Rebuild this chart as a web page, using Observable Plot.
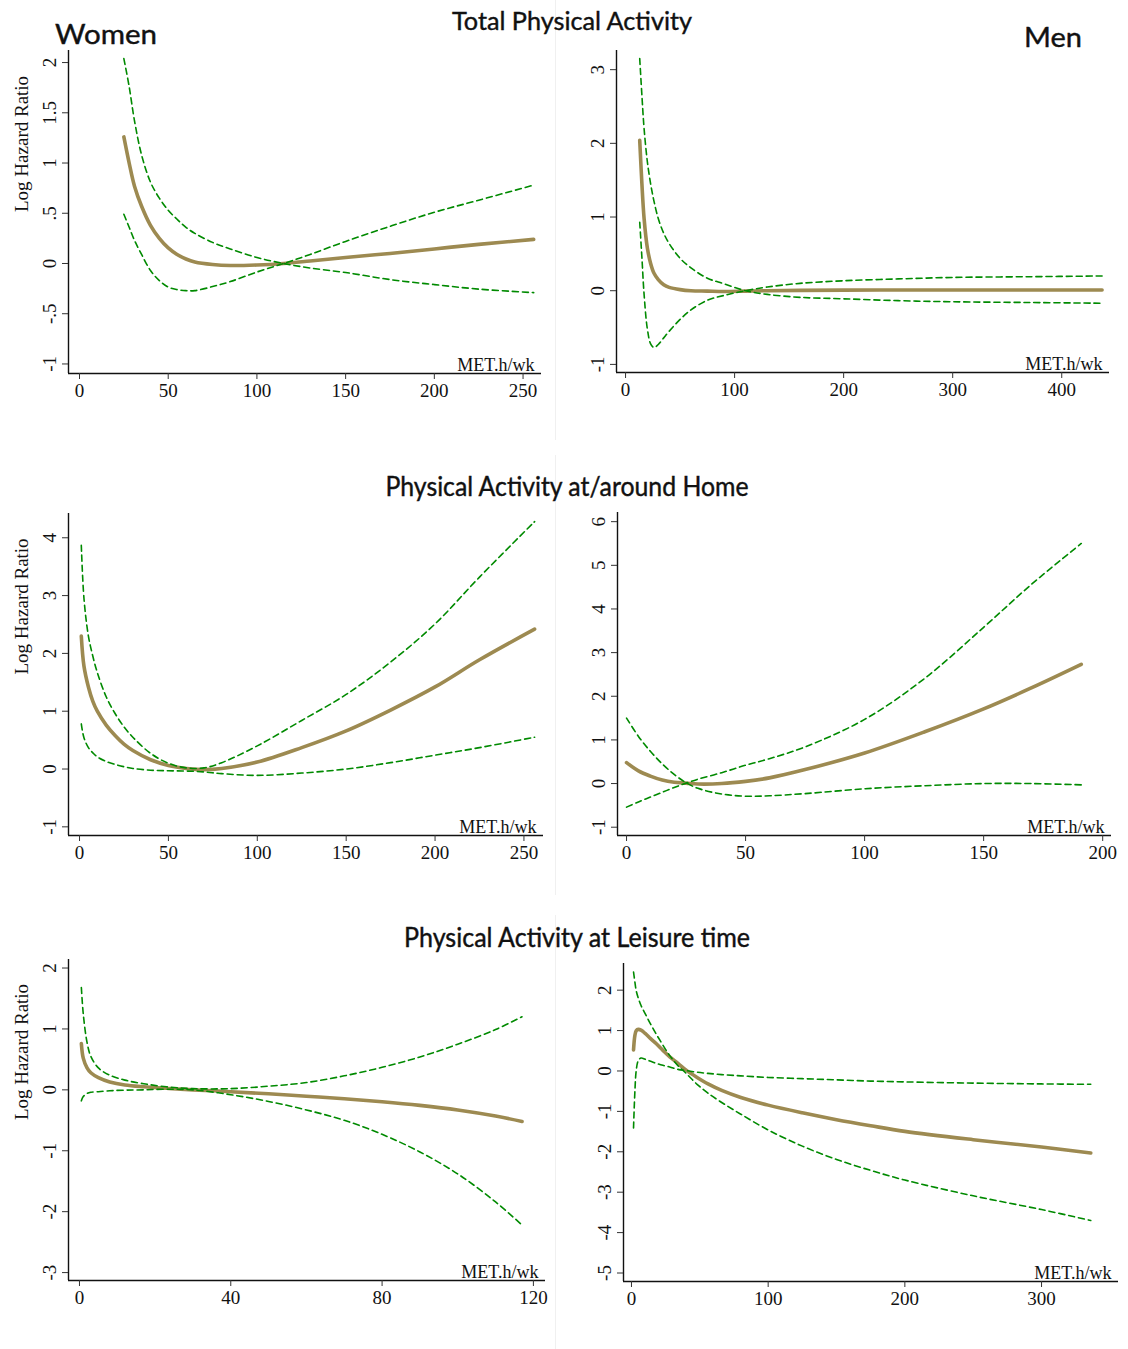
<!DOCTYPE html>
<html>
<head>
<meta charset="utf-8">
<script src="https://cdn.jsdelivr.net/npm/d3@7"></script>
<script src="https://cdn.jsdelivr.net/npm/@observablehq/plot@0.6"></script>
<style>
  html, body { margin: 0; padding: 0; background: #fff; }
  #page { position: relative; width: 1128px; height: 1349px; overflow: hidden; background: #fff; }
  #page > svg { position: absolute; }
</style>
</head>
<body>
<div id="page"></div>
<script>
// ---------------- text ----------------
const rowTitles = ["Total Physical Activity", "Physical Activity at/around Home", "Physical Activity at Leisure time"];
const sexLabels = ["Women", "Men"];
const yTitle = "Log Hazard Ratio";
const xUnit = "MET.h/wk";

// ---------------- data ----------------
// Total physical activity - Women
const womenTotalX   = [25, 28, 31, 35, 40, 45, 50, 55, 60, 65, 75, 85, 100, 115, 130, 150, 175, 200, 225, 256];
const womenTotalEst = [1.26, 1.0, 0.77, 0.57, 0.38, 0.25, 0.155, 0.09, 0.045, 0.015, -0.01, -0.02, -0.015, 0.0, 0.025, 0.06, 0.10, 0.145, 0.19, 0.24];
const womenTotalHi  = [2.04, 1.76, 1.42, 1.08, 0.81, 0.65, 0.53, 0.44, 0.36, 0.30, 0.21, 0.145, 0.06, 0.0, -0.045, -0.09, -0.16, -0.21, -0.255, -0.29];
const womenTotalLo  = [0.49, 0.36, 0.23, 0.09, -0.07, -0.17, -0.235, -0.26, -0.27, -0.27, -0.23, -0.18, -0.085, 0.0, 0.09, 0.22, 0.37, 0.51, 0.63, 0.78];

// Total physical activity - Men
const menTotalX   = [13, 15, 17, 20, 23, 26, 30, 35, 40, 50, 60, 75, 90, 110, 130, 160, 200, 250, 300, 370, 437];
const menTotalEst = [2.04, 1.45, 0.98, 0.58, 0.37, 0.24, 0.15, 0.08, 0.045, 0.015, 0.0, -0.005, -0.01, -0.005, 0.0, 0.005, 0.008, 0.01, 0.01, 0.01, 0.01];
const menTotalHi  = [3.15, 2.65, 2.2, 1.75, 1.45, 1.22, 0.98, 0.78, 0.64, 0.44, 0.31, 0.17, 0.095, 0.0, -0.05, -0.09, -0.11, -0.135, -0.15, -0.16, -0.17];
const menTotalLo  = [0.93, 0.45, -0.05, -0.52, -0.72, -0.77, -0.73, -0.64, -0.55, -0.39, -0.26, -0.13, -0.065, 0.0, 0.05, 0.10, 0.135, 0.16, 0.18, 0.19, 0.20];

// Physical activity at/around home - Women
const womenHomeX   = [1, 2.5, 5, 7.5, 10, 15, 20, 25, 30, 40, 50, 60, 70, 80, 100, 125, 150, 175, 200, 225, 256];
const womenHomeEst = [2.3, 1.78, 1.42, 1.17, 1.0, 0.76, 0.58, 0.43, 0.32, 0.16, 0.06, 0.01, -0.01, 0.01, 0.12, 0.37, 0.66, 1.02, 1.42, 1.89, 2.42];
const womenHomeHi  = [3.87, 2.95, 2.3, 1.95, 1.67, 1.25, 0.96, 0.73, 0.55, 0.27, 0.10, 0.02, 0.02, 0.11, 0.40, 0.84, 1.29, 1.85, 2.51, 3.32, 4.28];
const womenHomeLo  = [0.78, 0.54, 0.37, 0.28, 0.21, 0.13, 0.08, 0.04, 0.01, -0.02, -0.03, -0.035, -0.05, -0.08, -0.11, -0.07, 0.0, 0.11, 0.24, 0.37, 0.55];

// Physical activity at/around home - Men
const menHomeX   = [0, 5, 10, 15, 20, 25, 30, 40, 50, 60, 75, 100, 125, 150, 170, 191];
const menHomeEst = [0.48, 0.29, 0.17, 0.08, 0.03, 0.01, -0.01, 0.0, 0.05, 0.13, 0.32, 0.70, 1.18, 1.71, 2.19, 2.73];
const menHomeHi  = [-0.54, -0.42, -0.31, -0.2, -0.09, 0.01, 0.10, 0.25, 0.42, 0.57, 0.84, 1.47, 2.40, 3.58, 4.56, 5.50];
const menHomeLo  = [1.50, 1.08, 0.74, 0.45, 0.21, 0.02, -0.11, -0.24, -0.29, -0.28, -0.23, -0.12, -0.05, 0.0, 0.0, -0.03];

// Physical activity at leisure time - Women
const womenLeisureX   = [0.5, 1, 2, 3, 5, 8, 12, 17, 23, 30, 40, 50, 60, 70, 80, 90, 100, 110, 117];
const womenLeisureEst = [0.76, 0.52, 0.36, 0.28, 0.2, 0.13, 0.08, 0.05, 0.025, 0.0, -0.03, -0.065, -0.105, -0.145, -0.195, -0.255, -0.33, -0.43, -0.52];
const womenLeisureHi  = [1.68, 1.25, 0.78, 0.55, 0.36, 0.24, 0.16, 0.10, 0.05, 0.02, 0.02, 0.06, 0.12, 0.23, 0.37, 0.54, 0.75, 0.99, 1.2];
const womenLeisureLo  = [-0.18, -0.11, -0.06, -0.04, -0.03, -0.015, -0.005, 0.0, 0.01, 0.0, -0.08, -0.19, -0.33, -0.5, -0.73, -1.02, -1.38, -1.84, -2.22];

// Physical activity at leisure time - Men
const menLeisureX   = [1.5, 2.5, 3.5, 5, 7, 10, 14, 18, 23, 28, 34, 40, 48, 56, 66, 80, 100, 125, 150, 175, 200, 250, 300, 336];
const menLeisureEst = [0.52, 0.88, 1.0, 1.03, 1.01, 0.93, 0.8, 0.68, 0.51, 0.35, 0.19, 0.02, -0.16, -0.32, -0.48, -0.655, -0.845, -1.035, -1.205, -1.355, -1.495, -1.70, -1.88, -2.03];
const menLeisureHi  = [2.45, 2.2, 1.98, 1.8, 1.62, 1.42, 1.16, 0.92, 0.64, 0.38, 0.13, -0.06, -0.33, -0.55, -0.78, -1.07, -1.46, -1.86, -2.19, -2.46, -2.70, -3.09, -3.43, -3.70];
const menLeisureLo  = [-1.41, -0.5, 0.02, 0.26, 0.32, 0.29, 0.24, 0.19, 0.14, 0.1, 0.04, 0.01, -0.03, -0.06, -0.09, -0.12, -0.16, -0.19, -0.22, -0.25, -0.27, -0.30, -0.32, -0.33];

// tick values
const xTicksWomenTotal = [0, 50, 100, 150, 200, 250];
const yTicksWomenTotal = [-1, -0.5, 0, 0.5, 1, 1.5, 2];
const xTicksMenTotal = [0, 100, 200, 300, 400];
const yTicksMenTotal = [-1, 0, 1, 2, 3];
const xTicksWomenHome = [0, 50, 100, 150, 200, 250];
const yTicksWomenHome = [-1, 0, 1, 2, 3, 4];
const xTicksMenHome = [0, 50, 100, 150, 200];
const yTicksMenHome = [-1, 0, 1, 2, 3, 4, 5, 6];
const xTicksWomenLeisure = [0, 40, 80, 120];
const yTicksWomenLeisure = [-3, -2, -1, 0, 1, 2];
const xTicksMenLeisure = [0, 100, 200, 300];
const yTicksMenLeisure = [-5, -4, -3, -2, -1, 0, 1, 2];

// ---------------- styles / layout ----------------
const TAN = "#9d8a51";
const GREEN = "#008a00";
const SERIF = "'Liberation Serif', 'Times New Roman', serif";
const SANS = "Lato, 'Open Sans', sans-serif";
const M = {left: 62, right: 12, top: 6, bottom: 42};

const panels = [
  {x: womenTotalX, est: womenTotalEst, hi: womenTotalHi, lo: womenTotalLo, xt: xTicksWomenTotal, yt: yTicksWomenTotal,
   xd: [-6.2, 260.4], yd: [-1.095, 2.12], box: [68, 541, 50, 373], ylab: true},
  {x: menTotalX, est: menTotalEst, hi: menTotalHi, lo: menTotalLo, xt: xTicksMenTotal, yt: yTicksMenTotal,
   xd: [-8.3, 443.8], yd: [-1.11, 3.26], box: [616, 1109, 50, 372], ylab: false},
  {x: womenHomeX, est: womenHomeEst, hi: womenHomeHi, lo: womenHomeLo, xt: xTicksWomenHome, yt: yTicksWomenHome,
   xd: [-6.2, 261], yd: [-1.15, 4.42], box: [68, 543, 513, 835], ylab: true},
  {x: menHomeX, est: menHomeEst, hi: menHomeHi, lo: menHomeLo, xt: xTicksMenHome, yt: yTicksMenHome,
   xd: [-3.8, 203.7], yd: [-1.19, 6.21], box: [617, 1111, 512, 835], ylab: false},
  {x: womenLeisureX, est: womenLeisureEst, hi: womenLeisureHi, lo: womenLeisureLo, xt: xTicksWomenLeisure, yt: yTicksWomenLeisure,
   xd: [-2.9, 123.2], yd: [-3.13, 2.14], box: [68, 545, 959, 1280], ylab: true},
  {x: menLeisureX, est: menLeisureEst, hi: menLeisureHi, lo: menLeisureLo, xt: xTicksMenLeisure, yt: yTicksMenLeisure,
   xd: [-5.84, 356.3], yd: [-5.21, 2.66], box: [623, 1118, 963, 1281], ylab: false}
];

function fmtY(d) {
  const s = String(+d.toFixed(2));
  return s.replace(/^(-?)0\./, "$1.");
}

const page = document.getElementById("page");
const NS = "http://www.w3.org/2000/svg";

// light column separators
const seps = document.createElementNS(NS, "svg");
seps.setAttribute("width", 1128);
seps.setAttribute("height", 1349);
seps.style.left = "0px"; seps.style.top = "0px";
page.appendChild(seps);
for (const [y1, y2] of [[0, 440], [455, 895], [915, 1349]]) {
  const l = document.createElementNS(NS, "line");
  l.setAttribute("x1", 555.5); l.setAttribute("x2", 555.5);
  l.setAttribute("y1", y1); l.setAttribute("y2", y2);
  l.setAttribute("stroke", "#f0f0f0"); l.setAttribute("stroke-width", 1);
  seps.appendChild(l);
}

for (const p of panels) {
  const rows = p.x.map((x, i) => ({x, est: p.est[i], hi: p.hi[i], lo: p.lo[i]}));
  const [L, R, T, B] = p.box;
  const width = R - L + M.left + M.right;
  const height = B - T + M.top + M.bottom;
  const chart = Plot.plot({
    width, height,
    marginLeft: M.left, marginRight: M.right, marginTop: M.top, marginBottom: M.bottom,
    x: {domain: p.xd},
    y: {domain: p.yd},
    style: {fontFamily: SERIF, fontSize: "19px", color: "#222", background: "transparent", overflow: "visible"},
    marks: [
      Plot.lineY(rows, {x: "x", y: "est", stroke: TAN, strokeWidth: 3.6, curve: "catmull-rom"}),
      Plot.lineY(rows, {x: "x", y: "hi", stroke: GREEN, strokeWidth: 1.6, strokeDasharray: "6,4", curve: "catmull-rom"}),
      Plot.lineY(rows, {x: "x", y: "lo", stroke: GREEN, strokeWidth: 1.6, strokeDasharray: "6,4", curve: "catmull-rom"}),
      Plot.ruleX([p.xd[0]], {stroke: "#111", strokeWidth: 1.4}),
      Plot.ruleY([p.yd[0]], {stroke: "#111", strokeWidth: 1.4}),
      Plot.axisX({ticks: p.xt, tickSize: 6, tickPadding: 4, tickFormat: d => String(d), label: null, stroke: "#333", fill: "#111", fontSize: 19}),
      Plot.axisY({ticks: p.yt, tickSize: 6, tickRotate: -90, tickPadding: 7, tickFormat: fmtY, label: null, stroke: "#333", fill: "#111", fontSize: 19}),
      Plot.text([xUnit], {text: d => d, frameAnchor: "bottom-right", dx: -7, dy: -3, textAnchor: "end", lineAnchor: "bottom", fontSize: 18, fill: "#111"}),
      p.ylab ? Plot.text([yTitle], {text: d => d, frameAnchor: "left", rotate: -90, dx: -47, fontSize: 19, fill: "#111"}) : null
    ]
  });
  chart.style.position = "absolute";
  chart.style.left = (L - M.left) + "px";
  chart.style.top = (T - M.top) + "px";
  page.appendChild(chart);
}

// titles overlay
const ov = document.createElementNS(NS, "svg");
ov.setAttribute("width", 1128);
ov.setAttribute("height", 1349);
ov.style.left = "0px"; ov.style.top = "0px";
page.appendChild(ov);
function addText(str, x, y, size, anchor, len) {
  const t = document.createElementNS(NS, "text");
  t.textContent = str;
  t.setAttribute("x", x); t.setAttribute("y", y);
  t.setAttribute("font-family", SANS);
  t.setAttribute("font-size", size);
  t.setAttribute("text-anchor", anchor);
  t.setAttribute("fill", "#111");
  t.setAttribute("stroke", "#111");
  t.setAttribute("stroke-width", 0.4);
  if (len) { t.setAttribute("textLength", len); t.setAttribute("lengthAdjust", "spacingAndGlyphs"); }
  ov.appendChild(t);
}
addText(rowTitles[0], 572, 30, 25, "middle", 240);
addText(rowTitles[1], 567, 496, 26, "middle", 363);
addText(rowTitles[2], 577, 947, 26, "middle", 346);
addText(sexLabels[0], 55, 44, 27, "start", 102);
addText(sexLabels[1], 1024, 47, 27, "start", 58);
</script>
</body>
</html>
